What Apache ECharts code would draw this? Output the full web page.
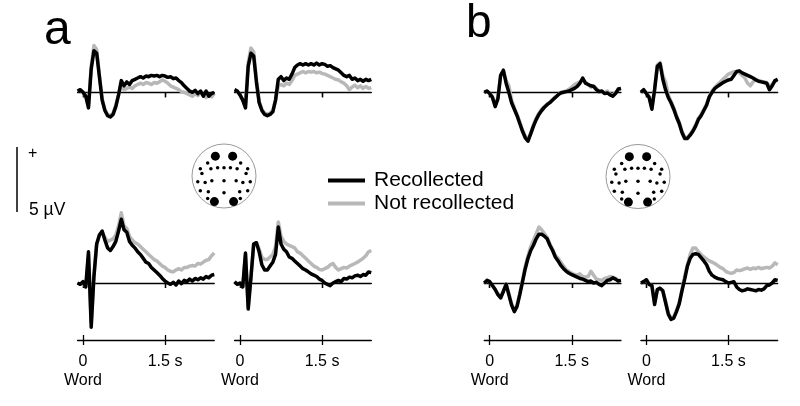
<!DOCTYPE html>
<html>
<head>
<meta charset="utf-8">
<script src="https://cdn.jsdelivr.net/npm/echarts@6/dist/echarts.min.js"></script>
<style>
html, body { margin: 0; padding: 0; background: #fff; }
#chart { width: 800px; height: 406px; }
</style>
</head>
<body>
<div id="chart"></div>
<script>
// 时间轴 (s)
var times = [-0.1, -0.05, 0, 0.05, 0.1, 0.15, 0.2, 0.25, 0.3, 0.35, 0.4, 0.45, 0.5, 0.55, 0.6, 0.65, 0.7, 0.75, 0.8, 0.85, 0.9, 0.95, 1, 1.05, 1.1, 1.15, 1.2, 1.25, 1.3, 1.35, 1.4, 1.45, 1.5, 1.55, 1.6, 1.65, 1.7, 1.75, 1.8, 1.85, 1.9, 1.95, 2, 2.05, 2.1, 2.15, 2.2, 2.25, 2.3, 2.35, 2.4];

// a 上左 (µV)
var recA1 = [0.1, 0.2, 0.0, -0.3, -1.2, 1.8, 3.2, 3.0, 1.2, -0.6, -1.4, -1.8, -1.9, -1.7, -1.1, -0.2, 0.9, 0.5, 0.8, 0.6, 0.9, 1.0, 1.1, 1.2, 1.1, 1.25, 1.2, 1.3, 1.25, 1.3, 1.2, 1.3, 1.25, 1.15, 1.2, 1.05, 1.1, 0.9, 0.75, 0.5, 0.3, 0.1, 0.0, 0.15, -0.1, 0.1, -0.3, 0.1, -0.3, -0.1, 0.0];
var notA1 = [0.1, 0.2, 0.0, -0.3, -1.0, 2.0, 3.6, 3.3, 1.3, -0.5, -1.3, -1.7, -1.8, -1.6, -1.0, -0.2, 0.7, 0.2, 0.3, 0.4, 0.3, 0.5, 0.6, 0.7, 0.6, 0.75, 0.7, 0.6, 0.75, 0.7, 0.8, 0.95, 0.85, 0.7, 0.5, 0.4, 0.3, 0.2, 0.05, 0.0, -0.1, -0.2, -0.3, -0.1, -0.25, 0.0, -0.2, -0.4, -0.2, -0.35, -0.1];
// a 上右
var recA2 = [0.2, 0.1, -0.2, -0.6, -1.2, 2.0, 3.0, 2.8, 0.8, -0.8, -1.4, -1.7, -1.8, -1.7, -1.5, -0.6, 1.0, 1.2, 0.9, 1.1, 1.0, 1.4, 1.9, 2.1, 2.2, 2.1, 2.2, 2.1, 2.2, 2.1, 2.25, 2.1, 2.2, 2.15, 2.0, 2.05, 1.9, 1.8, 1.7, 1.5, 1.3, 1.2, 1.3, 1.0, 1.1, 0.9, 1.0, 0.85, 1.0, 0.9, 1.0];
var notA2 = [0.2, 0.1, -0.2, -0.6, -1.0, 2.3, 3.4, 3.1, 1.0, -0.7, -1.3, -1.6, -1.7, -1.6, -1.4, -0.6, 0.5, 0.6, 0.5, 0.7, 0.6, 0.9, 1.3, 1.4, 1.5, 1.6, 1.5, 1.6, 1.55, 1.6, 1.5, 1.55, 1.45, 1.4, 1.3, 1.2, 1.1, 1.0, 0.95, 0.8, 0.7, 0.5, 0.2, 0.4, 0.55, 0.35, 0.5, 0.3, 0.45, 0.3, 0.35];
// a 下左
var recA3 = [0.0, -0.1, 0.1, -0.3, 2.4, -3.4, 0.5, 3.0, 3.7, 4.0, 3.3, 2.7, 2.5, 2.8, 3.2, 4.0, 4.9, 4.1, 3.9, 3.2, 2.9, 2.7, 2.4, 2.2, 1.9, 1.6, 1.5, 1.2, 1.0, 0.8, 0.6, 0.35, 0.15, 0.0, -0.1, 0.05, -0.15, 0.15, -0.05, 0.2, 0.1, 0.3, 0.15, 0.35, 0.25, 0.4, 0.3, 0.5, 0.4, 0.6, 0.65];
var notA3 = [0.0, -0.1, 0.1, -0.3, 2.2, -3.0, 0.6, 3.0, 3.7, 3.9, 3.5, 3.2, 3.3, 3.4, 3.7, 4.4, 5.4, 4.4, 4.2, 3.6, 3.3, 3.1, 3.0, 2.8, 2.6, 2.4, 2.2, 2.0, 1.8, 1.7, 1.5, 1.3, 1.2, 1.0, 0.9, 0.85, 1.0, 1.1, 1.0, 1.2, 1.2, 1.3, 1.35, 1.3, 1.5, 1.45, 1.6, 1.75, 1.8, 2.1, 2.3];
// a 下右
var recA4 = [0.1, -0.1, 0.0, -0.3, 2.3, -2.0, 0.4, 3.0, 3.1, 2.4, 1.4, 1.0, 1.0, 1.3, 1.6, 2.2, 4.3, 3.0, 2.6, 2.4, 2.0, 1.9, 1.7, 1.5, 1.3, 1.1, 1.0, 0.85, 0.7, 0.6, 0.5, 0.3, 0.2, 0.0, -0.1, -0.2, 0.0, 0.1, 0.2, 0.1, 0.35, 0.3, 0.45, 0.4, 0.55, 0.6, 0.5, 0.65, 0.6, 0.85, 0.8];
var notA4 = [0.1, -0.1, 0.0, -0.3, 2.2, -1.8, 0.5, 3.0, 3.1, 2.6, 2.0, 1.8, 1.8, 2.0, 2.2, 2.8, 4.7, 3.6, 3.2, 3.0, 2.9, 2.8, 2.7, 2.4, 2.3, 2.1, 1.9, 1.7, 1.5, 1.3, 1.2, 1.05, 1.0, 1.1, 1.2, 1.4, 1.5, 1.2, 1.0, 1.1, 1.2, 1.15, 1.3, 1.4, 1.5, 1.6, 1.75, 1.9, 2.1, 2.4, 2.5];
// b 上左
var recB1 = [0.0, 0.1, -0.1, -0.4, -1.1, -0.5, 1.3, 1.7, 0.7, 0.0, -0.8, -1.3, -1.8, -2.4, -3.0, -3.5, -3.75, -3.2, -2.6, -2.1, -1.7, -1.4, -1.15, -0.95, -0.8, -0.6, -0.4, -0.2, -0.05, 0.0, 0.05, 0.1, 0.2, 0.3, 0.45, 0.7, 1.1, 0.7, 0.6, 0.5, 0.45, 0.2, 0.05, 0.1, -0.1, -0.05, -0.2, -0.3, -0.1, 0.25, 0.3];
var notB1 = [0.0, 0.1, -0.1, -0.3, -1.0, -0.4, 1.3, 1.6, 0.9, 0.5, -0.6, -1.2, -1.7, -2.3, -2.9, -3.4, -3.6, -3.1, -2.5, -2.0, -1.6, -1.3, -1.1, -0.9, -0.75, -0.55, -0.35, -0.2, 0.0, 0.05, 0.1, 0.25, 0.4, 0.6, 0.7, 0.8, 1.0, 0.8, 0.6, 0.4, 0.5, 0.3, 0.1, 0.0, -0.05, 0.1, -0.15, -0.2, 0.0, 0.2, 0.25];
// b 上右
var recB2 = [0.0, 0.2, -0.1, -0.4, -1.3, 0.2, 2.0, 2.2, 1.0, 0.2, -0.4, -0.8, -1.3, -1.9, -2.4, -3.1, -3.55, -3.55, -3.3, -3.0, -2.6, -2.1, -1.8, -1.4, -1.0, -0.35, 0.0, 0.3, 0.45, 0.6, 0.75, 0.85, 0.95, 1.0, 1.3, 1.6, 1.65, 1.5, 1.4, 1.3, 1.2, 1.1, 0.95, 0.85, 0.8, 0.75, 0.7, 0.2, 0.5, 0.9, 1.0];
var notB2 = [0.0, 0.2, -0.1, -0.3, -1.2, 0.3, 2.1, 2.3, 1.3, 0.8, -0.2, -0.7, -1.2, -1.8, -2.3, -3.0, -3.45, -3.5, -3.2, -2.9, -2.5, -2.0, -1.7, -1.3, -0.9, -0.3, 0.1, 0.35, 0.6, 0.8, 1.0, 1.2, 1.4, 1.5, 1.6, 1.55, 1.5, 1.3, 1.1, 0.7, 0.5, 0.8, 1.0, 0.9, 0.85, 0.8, 0.75, 0.5, 0.6, 0.85, 0.9];
// b 下左
var recB3 = [0.0, 0.2, 0.1, -0.2, -0.5, -0.9, -1.15, -0.65, -0.1, -0.9, -1.7, -2.2, -1.8, -0.9, 0.1, 1.1, 1.9, 2.5, 2.9, 3.4, 3.75, 3.75, 3.6, 3.4, 2.9, 2.5, 2.0, 1.7, 1.35, 1.1, 0.9, 0.75, 0.65, 0.55, 0.45, 0.35, 0.3, 0.2, 0.1, 0.15, 0.0, 0.05, -0.1, -0.2, 0.0, 0.2, 0.25, 0.4, 0.3, 0.15, 0.2];
var notB3 = [0.0, 0.2, 0.1, -0.2, -0.5, -0.8, -1.1, -0.6, -0.1, -0.8, -1.6, -2.1, -1.7, -0.8, 0.2, 1.3, 2.1, 2.8, 3.3, 3.8, 4.3, 4.1, 3.8, 3.5, 3.0, 2.6, 2.1, 1.9, 1.6, 1.3, 1.0, 0.9, 0.75, 0.65, 0.6, 0.7, 0.5, 0.45, 0.5, 0.9, 0.6, 0.3, 0.25, 0.2, 0.35, 0.4, 0.5, 0.45, 0.35, 0.2, 0.2];
// b 下右
var recB4 = [0.0, 0.1, 0.25, -0.1, -0.2, -1.65, -0.5, -0.4, -0.6, -1.5, -2.4, -2.8, -2.7, -2.2, -1.6, -0.6, 0.3, 1.3, 1.9, 2.2, 2.25, 2.2, 1.95, 1.7, 1.4, 0.9, 0.6, 0.45, 0.35, 0.3, 0.25, 0.1, 0.0, 0.05, 0.1, -0.3, -0.5, -0.6, -0.55, -0.45, -0.5, -0.55, -0.6, -0.5, -0.55, -0.45, -0.2, -0.15, 0.0, 0.25, 0.2];
var notB4 = [0.0, 0.1, 0.25, -0.1, -0.2, -1.5, -0.5, -0.4, -0.6, -1.4, -2.3, -2.7, -2.6, -2.1, -1.5, -0.5, 0.5, 1.4, 2.2, 2.7, 2.7, 2.4, 2.2, 2.0, 1.85, 1.7, 1.6, 1.5, 1.35, 1.2, 1.1, 0.9, 0.8, 0.75, 0.8, 1.0, 0.95, 1.0, 1.1, 1.15, 1.05, 1.15, 1.1, 1.2, 1.1, 1.15, 1.2, 1.15, 1.3, 1.55, 1.4];

// 刻度和图例
var tickValues = [0, 1.5];
var tickLabels = ['0\nWord', '1.5 s'];
var legendNames = ['Recollected', 'Not recollected'];

// 头皮电极 (单位圆坐标)
var smallElectrodes = [[-0.51, 0.41], [0.52, 0.41], [-0.74, 0.23], [-0.41, 0.23], [-0.2, 0.26], [0, 0.26], [0.2, 0.26], [0.41, 0.23], [0.74, 0.23], [-0.69, 0.08], [0.69, 0.08], [-0.82, -0.18], [-0.59, -0.2], [-0.38, -0.15], [0, -0.15], [0.38, -0.15], [0.59, -0.2], [0.82, -0.18], [-0.74, -0.46], [-0.49, -0.49], [0, -0.52], [0.49, -0.49], [0.74, -0.46], [-0.51, -0.7], [0.51, -0.7]];
var bigElectrodes = [[-0.27, 0.62], [0.27, 0.62], [-0.3, -0.8], [0.3, -0.8]];

var FONT = 'Liberation Sans, Arial, Helvetica, sans-serif';
var pxPerSec = 54.7;  // 水平比例
var pxPerUv = 13;     // 垂直比例 (5 µV = 65px)
var tMin = -0.1, tMax = 2.4;

var grids = [], xAxes = [], yAxes = [], series = [];

function pairs(arr) {
    return times.map(function(t, i) { return [t, arr[i]]; });
}

// 零线坐标轴 (刻度上下各一半)
function zeroAxis(g, yi, inside) {
    return {
        gridIndex: g, type: 'value', min: tMin, max: tMax,
        axisLine: { show: !inside, onZero: true, onZeroAxisIndex: yi, lineStyle: { color: '#000', width: 1.3 } },
        axisTick: { show: true, customValues: tickValues, inside: inside, length: 5, lineStyle: { color: '#000', width: 1.3 } },
        axisLabel: { show: false },
        splitLine: { show: false }
    };
}

// 底部时间轴
function timeAxis(g, inside) {
    return {
        gridIndex: g, type: 'value', min: tMin, max: tMax, position: 'bottom',
        axisLine: { show: !inside, onZero: false, lineStyle: { color: '#000', width: 1.3 } },
        axisTick: { show: true, customValues: tickValues, inside: inside, length: 5, lineStyle: { color: '#000', width: 1.3 } },
        axisLabel: {
            show: !inside, customValues: tickValues, margin: 12,
            color: '#000', fontSize: 16, lineHeight: 19, fontFamily: FONT,
            formatter: function(v) { return v === 0 ? tickLabels[0] : tickLabels[1]; }
        },
        splitLine: { show: false }
    };
}

function addPanel(zeroX, zeroY, yMax, yMin, rec, not, withTime) {
    var g = grids.length;
    grids.push({
        left: zeroX + tMin * pxPerSec, top: zeroY - yMax * pxPerUv,
        width: (tMax - tMin) * pxPerSec, height: (yMax - yMin) * pxPerUv,
        outerBoundsMode: 'none'
    });
    var yi = yAxes.length;
    yAxes.push({ gridIndex: g, type: 'value', min: yMin, max: yMax, show: false });
    var xi = xAxes.length;
    xAxes.push(zeroAxis(g, yi, false));
    xAxes.push(zeroAxis(g, yi, true));
    if (withTime) {
        xAxes.push(timeAxis(g, false));
        xAxes.push(timeAxis(g, true));
    }
    series.push({
        name: legendNames[1], type: 'line', xAxisIndex: xi, yAxisIndex: yi,
        data: pairs(not), symbol: 'none', clip: false, silent: true, z: 2,
        lineStyle: { color: '#b8b8b8', width: 3.5, join: 'round' }, itemStyle: { color: '#b8b8b8' }
    });
    series.push({
        name: legendNames[0], type: 'line', xAxisIndex: xi, yAxisIndex: yi,
        data: pairs(rec), symbol: 'none', clip: false, silent: true, z: 3,
        lineStyle: { color: '#000', width: 3.5, join: 'round' }, itemStyle: { color: '#000' }
    });
}

// 头皮示意图
function addHead(cx, cy, r) {
    var g = grids.length;
    grids.push({ left: cx - r, top: cy - r, width: 2 * r, height: 2 * r, outerBoundsMode: 'none' });
    var xi = xAxes.length, yi = yAxes.length;
    xAxes.push({ gridIndex: g, type: 'value', min: -1, max: 1, show: false });
    yAxes.push({ gridIndex: g, type: 'value', min: -1, max: 1, show: false });
    series.push({
        type: 'scatter', xAxisIndex: xi, yAxisIndex: yi, silent: true,
        data: [[0, 1.05]], symbol: 'triangle', symbolSize: [7, 6],
        itemStyle: { color: '#fff', borderColor: '#999', borderWidth: 1, opacity: 1 }
    });
    series.push({
        type: 'scatter', xAxisIndex: xi, yAxisIndex: yi, silent: true,
        data: [[0, 0]], symbolSize: 2 * r,
        itemStyle: { color: 'rgba(0,0,0,0)', borderColor: '#999', borderWidth: 1, opacity: 1 }
    });
    series.push({
        type: 'scatter', xAxisIndex: xi, yAxisIndex: yi, silent: true,
        data: smallElectrodes, symbolSize: 3.5, itemStyle: { color: '#000', opacity: 1 }
    });
    series.push({
        type: 'scatter', xAxisIndex: xi, yAxisIndex: yi, silent: true,
        data: bigElectrodes, symbolSize: 9, itemStyle: { color: '#000', opacity: 1 }
    });
}

addPanel(83, 92.3, 5, -5, recA1, notA1, false);
addPanel(240, 92.3, 5, -5, recA2, notA2, false);
addPanel(83, 283, 6, -57 / 13, recA3, notA3, true);
addPanel(240, 283, 6, -57 / 13, recA4, notA4, true);
addPanel(489.7, 92.3, 5, -5, recB1, notB1, false);
addPanel(646.4, 92.3, 5, -5, recB2, notB2, false);
addPanel(489.7, 283, 6, -57 / 13, recB3, notB3, true);
addPanel(646.4, 283, 6, -57 / 13, recB4, notB4, true);
addHead(224, 176, 32);
addHead(638, 176.5, 32);

var chart = echarts.init(document.getElementById('chart'));
chart.setOption({
    animation: false,
    backgroundColor: '#fff',
    grid: grids,
    xAxis: xAxes,
    yAxis: yAxes,
    series: series,
    legend: {
        data: legendNames, orient: 'vertical', left: 323, top: 165,
        icon: 'rect', itemWidth: 37, itemHeight: 4, itemGap: 2,
        selectedMode: false,
        textStyle: { color: '#000', fontSize: 21, lineHeight: 21, fontFamily: FONT, padding: [0, 0, 0, 4] }
    },
    graphic: [
        { type: 'text', left: 44, top: 7, style: { text: 'a', font: '48px ' + FONT, fill: '#000' } },
        { type: 'text', left: 466, top: 1, style: { text: 'b', font: '46px ' + FONT, fill: '#000' } },
        // 5 µV 比例尺
        { type: 'line', shape: { x1: 17, y1: 147, x2: 17, y2: 212 }, style: { stroke: '#000', lineWidth: 1.5 } },
        { type: 'text', x: 28, y: 146, style: { text: '+', font: '16px ' + FONT, fill: '#000' } },
        { type: 'text', x: 29, y: 201, style: { text: '5 µV', font: '17.5px ' + FONT, fill: '#000' } }
    ]
});
</script>
</body>
</html>
